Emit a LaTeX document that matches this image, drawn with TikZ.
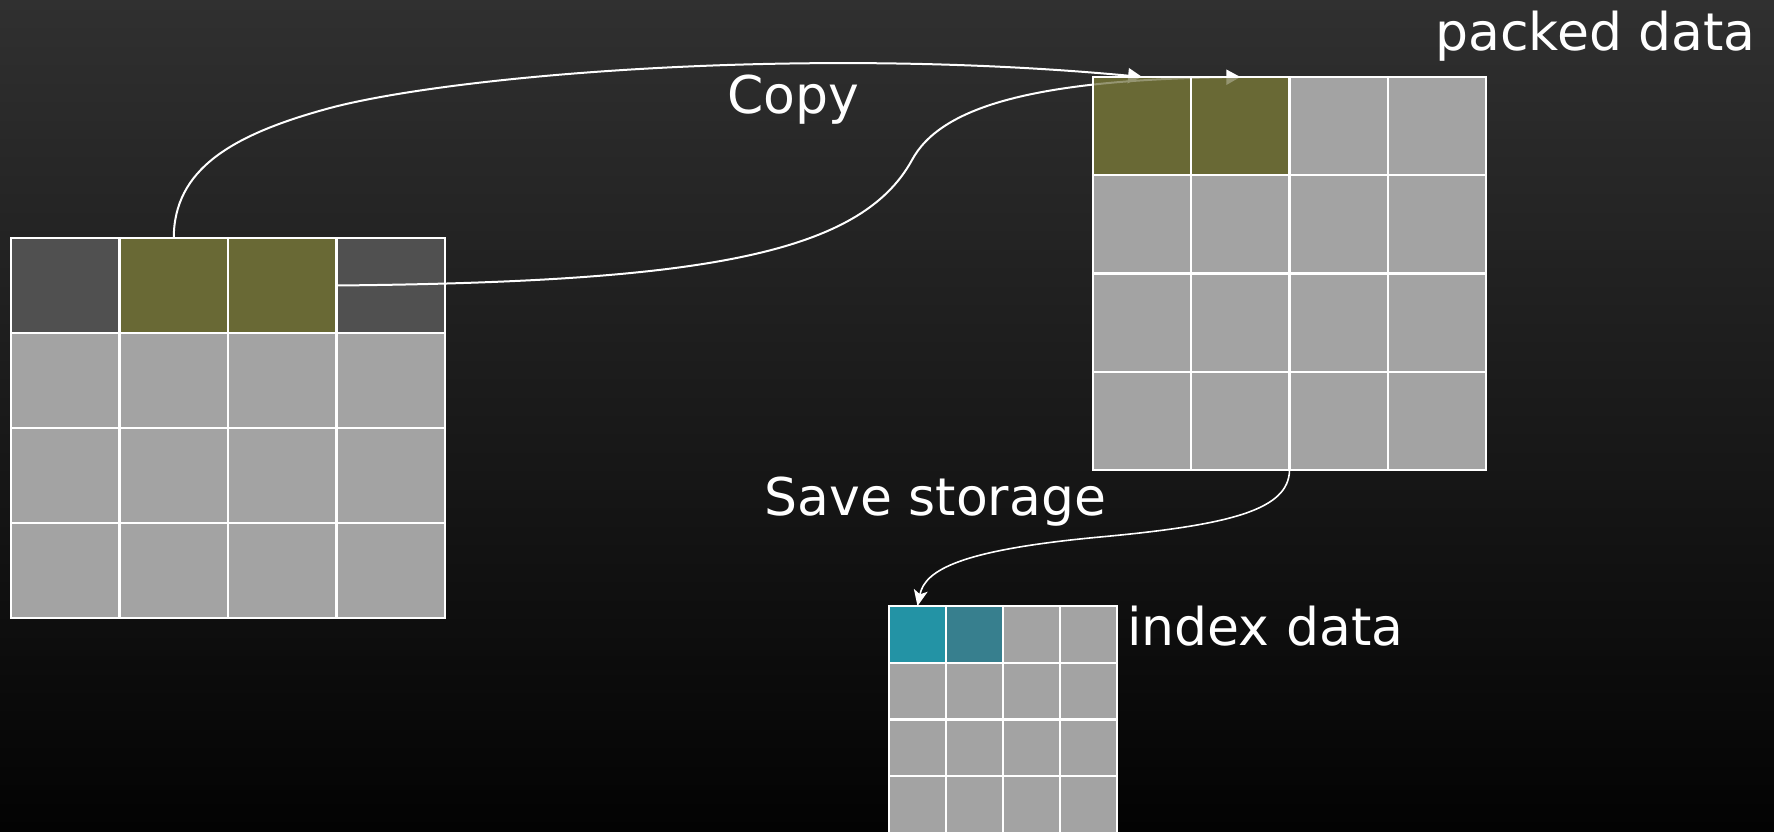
\documentclass[tikz,border=0pt]{standalone}
\usepackage{fontspec}
\setmainfont{DejaVu Sans}
\usepackage{xcolor}
\usetikzlibrary{arrows.meta}

\definecolor{bgtop}{HTML}{303030}
\definecolor{bgbottom}{HTML}{030303}
\definecolor{cellgray}{HTML}{A3A3A3}
\definecolor{celldark}{HTML}{505050}
\definecolor{cellolive}{HTML}{696935}
\definecolor{cellteal}{HTML}{2393A5}
\definecolor{cellslate}{HTML}{377F8E}

\tikzset{
    cell/.style={rectangle, draw=white, line width=1.2pt, inner sep=0pt, outer sep=0pt},
    srccell/.style={cell, minimum width=54.25pt, minimum height=47.5pt},
    pkcell/.style={cell, minimum width=49.125pt, minimum height=49.125pt},
    ixcell/.style={cell, minimum width=28.5pt, minimum height=28.375pt},
    lbl/.style={text=white, font=\fontsize{26}{31}\selectfont, inner sep=0pt},
    flow/.style={draw=white, line width=1pt, -{Triangle[length=7pt,width=7.5pt]}},
    store/.style={draw=white, line width=0.8pt, -{Stealth[length=8pt,width=7pt,inset=2pt]}},
}

\begin{document}
\begin{tikzpicture}[x=0.5pt, y=-0.5pt]
    \shade [top color=bgtop, bottom color=bgbottom] (0,0) rectangle (1774,831);
    \useasboundingbox (0,0) rectangle (1774,831);

    % source matrix
    \foreach \c/\col in {1/celldark, 2/cellolive, 3/cellolive, 4/celldark}
        \node (src-1-\c) [srccell, fill=\col] at ({11+108.5*(\c-0.5)}, 285.5) {};
    \foreach \r in {2,3,4}
        \foreach \c in {1,...,4}
            \node (src-\r-\c) [srccell, fill=cellgray] at ({11+108.5*(\c-0.5)}, {238+95*(\r-0.5)}) {};

    % packed matrix
    \foreach \c/\col in {1/cellolive, 2/cellolive, 3/cellgray, 4/cellgray}
        \node (pk-1-\c) [pkcell, fill=\col] at ({1093+98.25*(\c-0.5)}, 126.1) {};
    \foreach \r in {2,3,4}
        \foreach \c in {1,...,4}
            \node (pk-\r-\c) [pkcell, fill=cellgray] at ({1093+98.25*(\c-0.5)}, {77+98.25*(\r-0.5)}) {};

    % index matrix
    \foreach \c/\col in {1/cellteal, 2/cellslate, 3/cellgray, 4/cellgray}
        \node (ix-1-\c) [ixcell, fill=\col] at ({889+57*(\c-0.5)}, 634.4) {};
    \foreach \r in {2,3,4}
        \foreach \c in {1,...,4}
            \node (ix-\r-\c) [ixcell, fill=cellgray] at ({889+57*(\c-0.5)}, {606+56.75*(\r-0.5)}) {};

    \node (copy) [lbl, anchor=base west] at (727,113) {Copy};
    \node (save) [lbl, anchor=base west] at (764,515) {Save storage};
    \node (indexlbl) [lbl, anchor=base west] at (1127,645) {index data};
    \node (packedlbl) [lbl, anchor=base west] at (1435,50) {packed data};

    \draw [flow] (src-1-2.north) .. controls (174,170) and (230,135) .. (330,108)
        .. controls (450,76) and (800,45) .. (pk-1-1.north);
    \draw [flow] (src-1-3.east) .. controls (700,282) and (860,255) .. (912,160)
        .. controls (940,108) and (1030,80) .. (pk-1-2.north);
    \draw [store] (pk-4-2.south east) .. controls (1289,510) and (1230,525) .. (1100,537)
        .. controls (960,550) and (925,570) .. (ix-1-1.north);

    % olive cells show the heads through them
    \foreach \c in {1,2}
        \fill [cellolive, fill opacity=0.7] ([xshift=0.6pt,yshift=-0.6pt]pk-1-\c.north west)
            rectangle ([xshift=-0.6pt,yshift=0.6pt]pk-1-\c.south east);
\end{tikzpicture}
\end{document}
